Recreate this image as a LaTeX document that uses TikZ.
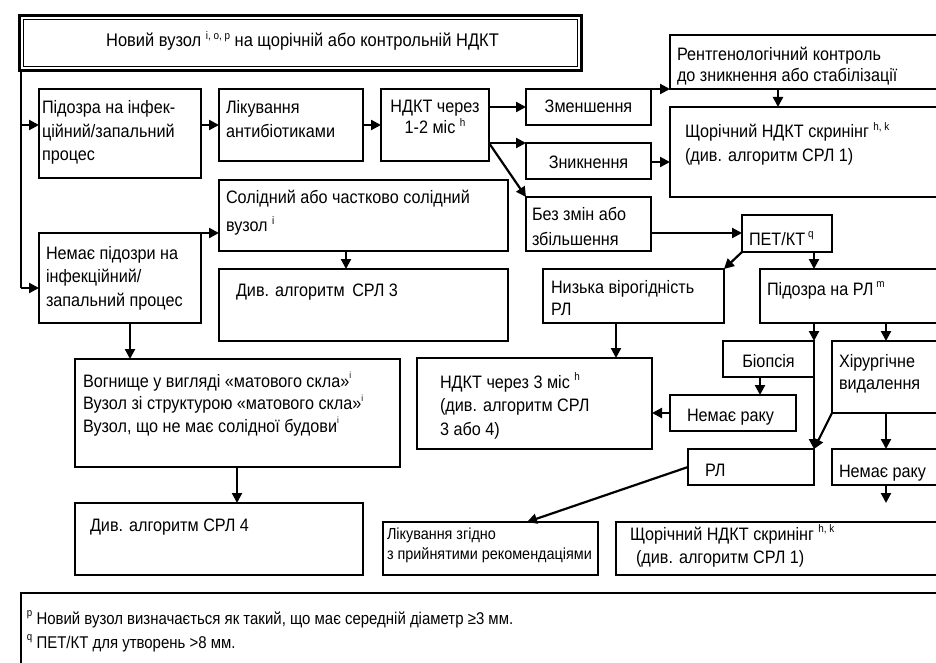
\documentclass[tikz,border=0pt]{standalone}
\usepackage{fontspec}
\setmainfont{Liberation Sans}[FakeStretch=0.9]
\newfontfamily\footf{Liberation Sans}[FakeStretch=0.88]
\usetikzlibrary{arrows.meta}
\newcommand\sups[1]{\raisebox{0.42em}{\fontsize{11}{11}\selectfont #1}}
\newcommand\supt[1]{\raisebox{0.45em}{\fontsize{9}{9}\selectfont #1}}
\newcommand\ml[1]{\begin{tabular}[t]{@{}l@{}}#1\end{tabular}}
\newcommand\mc[1]{\begin{tabular}[t]{@{}c@{}}#1\end{tabular}}
\newcommand\mybox[5]{\node[box,anchor=north west,minimum width={(#4-#2)*1pt},minimum height={(#5-#3)*1pt}] (#1) at (#2,#3) {};}
\begin{document}
\begin{tikzpicture}[x=1pt,y=-1pt,
 box/.style={draw, line width=1.2pt, inner sep=0pt, outer sep=0pt, rectangle},
 txt/.style={inner sep=0pt, outer sep=0pt, anchor=base west, font=\fontsize{18}{23.5}\selectfont},
 ctxt/.style={txt, anchor=base},
 arr/.style={line width=2.2pt, -{Triangle[length=10pt,width=10pt]}},
 thinl/.style={line width=1.3pt}]
\path[use as bounding box, fill=white] (0,0) rectangle (936,663);

% title
\node[draw, line width=3pt, inner sep=0pt, outer sep=0pt, anchor=north west, minimum width=562pt, minimum height=55pt] (title) at (19.5,15.5) {};
\draw[line width=1.1pt] ([shift={(4,4)}]title.north west) rectangle ([shift={(-4,-4)}]title.south east);
\node[ctxt, font=\fontsize{18.3}{23.5}\selectfont] (t_title) at ([shift={(2,31.5)}]title.north) {Новий вузол \sups{i, o, p} на щорічній або контрольній НДКТ};

% boxes
\mybox{susp}{39}{89}{201}{178}
\mybox{antib}{219}{89}{363}{161}
\mybox{ndkt1}{381}{89}{489}{161}
\mybox{zmen}{526}{89}{651}{125}
\mybox{znyk}{526}{143}{651}{179}
\mybox{bez}{526}{197}{651}{251}
\mybox{rent}{670}{35}{960}{89}
\mybox{shch1}{670}{107}{960}{197}
\mybox{sol}{219}{180}{508}{251}
\mybox{nopod}{39}{233}{201}{323}
\mybox{srl3}{219}{269}{508}{341}
\mybox{pet}{742}{215}{832}{252}
\mybox{nyz}{543}{269}{724}{323}
\mybox{pidrl}{760}{269}{960}{323}
\mybox{biop}{723}{341}{814}{377}
\mybox{hir}{832}{341}{960}{413}
\mybox{nrak1}{670}{395}{796}{431}
\mybox{ndkt3}{417}{358}{652}{449}
\mybox{rl}{688}{449}{814}{485}
\mybox{nrak2}{832}{449}{960}{485}
\mybox{vog}{75}{359}{400}{467}
\mybox{srl4}{75}{503}{363}{575}
\mybox{likz}{383}{522}{598}{575}
\mybox{shch2}{616}{522}{960}{575}
\mybox{foot}{21}{593}{960}{700}

% texts
\node[txt] (t_susp) at ([shift={(3,25)}]susp.north west) {\ml{Підозра на інфек-\\ційний/запальний\\процес}};
\node[txt] (t_antib) at ([shift={(7,25)}]antib.north west) {\ml{Лікування\\антибіотиками}};
\node[ctxt] (t_ndkt1) at ([shift={(0,24)}]ndkt1.north) {\mc{НДКТ через\\[-2.5pt]1-2 міс \sups{h}}};
\node[ctxt] (t_zmen) at ([shift={(0,24)}]zmen.north) {Зменшення};
\node[ctxt] (t_znyk) at ([shift={(0,25)}]znyk.north) {Зникнення};
\node[txt] (t_bez) at ([shift={(6,23)}]bez.north west) {\ml{Без змін або\\[1.5pt]збільшення}};
\node[txt] (t_rent) at ([shift={(7,26)}]rent.north west) {\ml{Рентгенологічний контроль\\[-2.5pt]до зникнення або стабілізації}};
\node[txt] (t_shch1) at ([shift={(15,31)}]shch1.north west) {\ml{Щорічний НДКТ скринінг \sups{h, k}\\(див. алгоритм СРЛ 1)}};
\node[txt] (t_sol) at ([shift={(7,24)}]sol.north west) {\ml{Солідний або частково солідний\\[4.5pt]вузол \sups{i}}};
\node[txt] (t_srl3) at ([shift={(17,27)}]srl3.north west) {Див. алгоритм\hspace{3pt} СРЛ 3};
\node[txt] (t_nopod) at ([shift={(7,26)}]nopod.north west) {\ml{Немає підозри на\\інфекційний/\\запальний процес}};
\node[txt] (t_nyz) at ([shift={(8,24)}]nyz.north west) {\ml{Низька вірогідність\\[-1.5pt]РЛ}};
\node[txt] (t_pet) at ([shift={(7,30)}]pet.north west) {ПЕТ/КТ\,\sups{q}};
\node[txt] (t_pidrl) at ([shift={(7,26)}]pidrl.north west) {Підозра на РЛ\,\sups{m}};
\node[ctxt] (t_biop) at ([shift={(0,26)}]biop.north) {Біопсія};
\node[txt] (t_hir) at ([shift={(7,26)}]hir.north west) {\ml{Хірургічне\\[-1.5pt]видалення}};
\node[txt] (t_nrak1) at ([shift={(17,26)}]nrak1.north west) {Немає раку};
\node[txt] (t_ndkt3) at ([shift={(23,30)}]ndkt3.north west) {\ml{НДКТ через 3 міс \sups{h}\\(див. алгоритм СРЛ\\3 або 4)}};
\node[txt] (t_rl) at ([shift={(17,27)}]rl.north west) {РЛ};
\node[txt] (t_nrak2) at ([shift={(7,28)}]nrak2.north west) {Немає раку};
\node[txt] (t_vog) at ([shift={(8,28)}]vog.north west) {\ml{Вогнище у вигляді «матового скла»\supt{i}\\[-1pt]Вузол зі структурою «матового скла»\supt{i}\\[-1pt]Вузол, що не має солідної будови\supt{i}}};
\node[txt] (t_srl4) at ([shift={(15,28)}]srl4.north west) {Див. алгоритм СРЛ 4};
\node[txt, font=\fontsize{16}{20}\selectfont] (t_likz) at ([shift={(4,17)}]likz.north west) {\ml{Лікування згідно\\з прийнятими рекомендаціями}};
\node[txt] (t_shch2) at ([shift={(14,18)}]shch2.north west) {\ml{Щорічний НДКТ скринінг \sups{h, k}\\[-0.5pt]\hspace{6pt}(див. алгоритм СРЛ 1)}};
\node[txt, font=\footf\fontsize{17}{24}\selectfont] (t_foot) at ([shift={(6,31)}]foot.north west) {\ml{\sups{p} Новий вузол визначається як такий, що має середній діаметр ≥3 мм.\\\sups{q} ПЕТ/КТ для утворень >8 мм.}};

% connectors
\coordinate (spine) at ([xshift=1.5pt]title.south west);
\coordinate (s1) at ([shift={(0,36)}]susp.north west);
\coordinate (s2) at ([shift={(0,55)}]nopod.north west);
\draw[thinl] (spine) -- (spine |- s2);
\draw[arr] (spine |- s1) -- (s1);
\draw[arr] (spine |- s2) -- (s2);
\draw[arr] ([shift={(0,36)}]susp.north east) -- ([shift={(0,36)}]antib.north west);
\draw[arr] ([shift={(0,36)}]antib.north east) -- ([shift={(0,36)}]ndkt1.north west);
\draw[arr] ([shift={(0,18)}]ndkt1.north east) -- ([shift={(0,18)}]zmen.north west);
\draw[arr] ([shift={(0,54)}]ndkt1.north east) -- (znyk.north west);
\draw[arr] ([shift={(0,54)}]ndkt1.north east) -- (bez.north west);
\draw[arr] (zmen.north east) -- (rent.south west);
\draw[arr] ([shift={(108,0)}]rent.south west) -- ([shift={(108,0)}]shch1.north west);
\draw[arr] ([shift={(0,19)}]znyk.north east) -- ([shift={(0,55)}]shch1.north west);
\draw[arr] ([shift={(0,36)}]bez.north east) -- ([shift={(0,18)}]pet.north west);
\draw[arr] (pet.south west) -- (nyz.north east);
\draw[arr] ([shift={(72,0)}]pet.south west) -- ([shift={(54,0)}]pidrl.north west);
\draw[arr] ([shift={(54,0)}]pidrl.south west) -- (biop.north east);
\draw[arr] (biop.north east) -- (rl.north east);
\draw[arr] ([shift={(126,0)}]pidrl.south west) -- ([shift={(54,0)}]hir.north west);
\draw[arr] ([shift={(37,0)}]biop.south west) -- ([shift={(90,0)}]nrak1.north west);
\draw[arr] ([shift={(0,18)}]nrak1.north west) -- ([shift={(0,55)}]ndkt3.north east);
\draw[arr] ([shift={(73,0)}]nyz.south west) -- ([shift={(199,0)}]ndkt3.north west);
\draw[arr] (hir.south west) -- (rl.north east);
\draw[arr] ([shift={(54,0)}]hir.south west) -- ([shift={(54,0)}]nrak2.north west);
\coordinate (free) at ([shift={(54,18)}]nrak2.south west);
\draw[arr] ([shift={(54,0)}]nrak2.south west) -- (free);
\draw[arr] ([shift={(0,18)}]rl.north west) -- ([shift={(144,0)}]likz.north west);
\draw[arr] (nopod.north east) -- ([shift={(0,53)}]sol.north west);
\draw[arr] ([shift={(127,0)}]sol.south west) -- ([shift={(127,0)}]srl3.north west);
\draw[arr] ([shift={(91,0)}]nopod.south west) -- ([shift={(55,0)}]vog.north west);
\draw[arr] ([shift={(162,0)}]vog.south west) -- ([shift={(162,0)}]srl4.north west);
\end{tikzpicture}
\end{document}
